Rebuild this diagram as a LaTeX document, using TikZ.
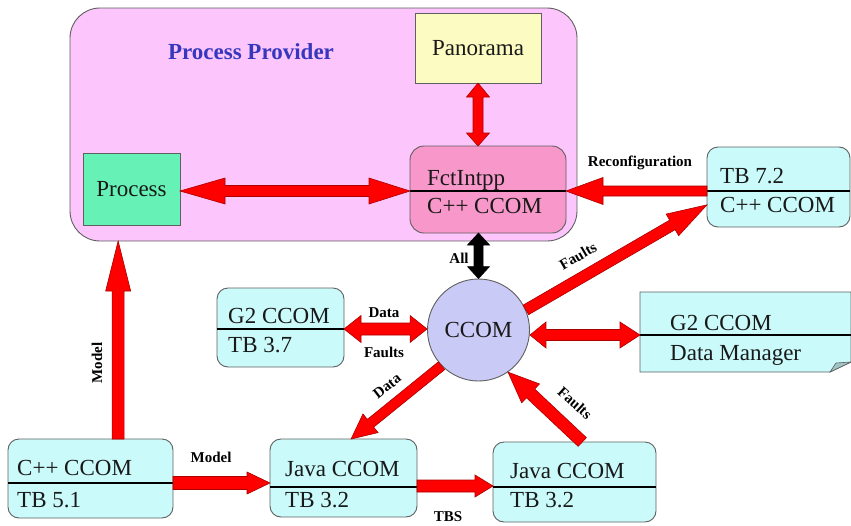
\documentclass[tikz,border=0pt]{standalone}
\usepackage{fontspec}
\setmainfont{Liberation Serif}
\usetikzlibrary{calc}

\definecolor{ppfill}{RGB}{252,198,252}
\definecolor{panofill}{RGB}{252,252,194}
\definecolor{procfill}{RGB}{102,242,182}
\definecolor{fctfill}{RGB}{248,152,202}
\definecolor{cyanfill}{RGB}{202,250,250}
\definecolor{ccomfill}{RGB}{202,202,246}
\definecolor{foldfill}{RGB}{160,196,196}
\definecolor{boxline}{RGB}{95,95,95}
\definecolor{textdark}{RGB}{25,25,25}
\definecolor{titleblue}{RGB}{55,55,190}
\definecolor{arrowred}{RGB}{255,0,0}
\definecolor{arrowedge}{RGB}{170,0,0}

\newcommand\boxfont{\fontsize{23}{26}\selectfont}
\newcommand\tagfont{\fontsize{15}{17}\selectfont\bfseries}

% single-headed fat arrow: style, tail, tip, half shaft, head length, half head width
\newcommand\fatone[6]{%
  \coordinate (hb) at ($(#3)!#5!(#2)$);
  \filldraw[#1] ($(#2)!#4!90:(#3)$) -- ($(hb)!#4!90:(#3)$) -- ($(hb)!#6!90:(#3)$)
    -- (#3) -- ($(hb)!#6!-90:(#3)$) -- ($(hb)!#4!-90:(#3)$) -- ($(#2)!#4!-90:(#3)$) -- cycle;
}
% double-headed fat arrow: style, end A, end B, half shaft, head A, head B, half head width
\newcommand\fattwo[7]{%
  \coordinate (ha) at ($(#2)!#5!(#3)$);
  \coordinate (hb) at ($(#3)!#6!(#2)$);
  \filldraw[#1] (#2) -- ($(ha)!#7!90:(#3)$) -- ($(ha)!#4!90:(#3)$)
    -- ($(hb)!#4!-90:(#2)$) -- ($(hb)!#7!-90:(#2)$) -- (#3)
    -- ($(hb)!#7!90:(#2)$) -- ($(hb)!#4!90:(#2)$)
    -- ($(ha)!#4!-90:(#3)$) -- ($(ha)!#7!-90:(#3)$) -- cycle;
}

\begin{document}
\begin{tikzpicture}[x=1pt,y=-1pt,
  box/.style={draw=boxline, line width=0.9pt, inner sep=0pt, outer sep=0pt, anchor=north west},
  cyanbox/.style={box, fill=cyanfill, rounded corners=11pt},
  sepline/.style={draw=black, line width=2pt},
  txt/.style={font=\boxfont, text=textdark, inner sep=0pt, anchor=base west},
  tag/.style={font=\tagfont, text=black, inner sep=0pt},
  redarrow/.style={fill=arrowred, draw=arrowedge, line width=0.6pt, line join=miter},
  blackarrow/.style={fill=black, draw=black, line width=0.6pt, line join=miter}]
\useasboundingbox (0,0) rectangle (851,525);

% ---- Process Provider frame
\node[box, fill=ppfill, rounded corners=30pt, minimum width=507pt, minimum height=233pt] (pp) at (70,8) {};
\node[font=\boxfont\bfseries, text=titleblue, inner sep=0pt] (pptitle) at (251,52) {Process Provider};

\node[box, fill=panofill, minimum width=126pt, minimum height=70pt, font=\boxfont, text=textdark] (pano) at (415,13) {Panorama};
\node[box, fill=procfill, minimum width=97pt, minimum height=72pt, font=\boxfont, text=textdark] (proc) at (83,153) {Process};

\node[box, fill=fctfill, rounded corners=14pt, minimum width=156pt, minimum height=87pt] (fct) at (410,146) {};
\coordinate (fctL) at (fct.west |- 0,191);
\coordinate (fctR) at (fct.east |- 0,191);
\draw[sepline] (fctL) -- (fctR);
\node[txt] (fct-a) at (427,185) {FctIntpp};
\node[txt] (fct-b) at (427,213) {C++ CCOM};

% ---- TB 7.2
\node[cyanbox, minimum width=143pt, minimum height=80pt] (tb72) at (707,147) {};
\coordinate (tb72L) at (tb72.west |- 0,191);
\draw[sepline] (tb72L) -- (tb72.east |- tb72L);
\node[txt] (tb72-a) at (720,183) {TB 7.2};
\node[txt] (tb72-b) at (720,212) {C++ CCOM};

% ---- G2 CCOM / TB 3.7
\node[cyanbox, minimum width=127pt, minimum height=79pt] (g2) at (217,288) {};
\coordinate (g2R) at (g2.east |- 0,329);
\draw[sepline] (g2.west |- g2R) -- (g2R);
\node[txt] (g2-a) at (228,323) {G2 CCOM};
\node[txt] (g2-b) at (228,352) {TB 3.7};

% ---- CCOM hub
\node[circle, draw=boxline, line width=0.9pt, fill=ccomfill, minimum size=102pt, inner sep=0pt,
      font=\boxfont, text=textdark] (ccom) at (478.5,330) {CCOM};

% ---- Data Manager (note shape)
\node[inner sep=0pt, outer sep=0pt, anchor=north west, minimum width=211pt, minimum height=80pt] (dm) at (640,292) {};
\draw[fill=cyanfill, draw=boxline, line width=0.9pt]
  (dm.north west) -- (dm.north east) -- ($(dm.south east)+(0,-10)$)
  -- ($(dm.south east)+(-21,0)$) -- (dm.south west) -- cycle;
\draw[fill=foldfill, draw=boxline, line width=0.6pt]
  ($(dm.south east)+(-21,0)$) -- ($(dm.south east)+(-15,-9)$) -- ($(dm.south east)+(0,-10)$) -- cycle;
\coordinate (dmL) at (dm.west |- 0,335);
\draw[sepline] (dmL) -- (dm.east |- dmL);
\node[txt] (dm-a) at (670,330) {G2 CCOM};
\node[txt] (dm-b) at (670,360) {Data Manager};

% ---- bottom row
\node[cyanbox, minimum width=165pt, minimum height=79pt] (cpp) at (8,439) {};
\coordinate (cppR) at (cpp.east |- 0,483);
\draw[sepline] (cpp.west |- cppR) -- (cppR);
\node[txt] (cpp-a) at (17,475) {C++ CCOM};
\node[txt] (cpp-b) at (17,507) {TB 5.1};

\node[cyanbox, minimum width=147pt, minimum height=78pt] (java1) at (270,439) {};
\coordinate (java1R) at (java1.east |- 0,487);
\draw[sepline] (java1.west |- java1R) -- (java1R);
\node[txt] (java1-a) at (285,476) {Java CCOM};
\node[txt] (java1-b) at (285,507) {TB 3.2};

\node[cyanbox, minimum width=163pt, minimum height=80pt] (java2) at (493,442) {};
\coordinate (java2L) at (java2.west |- 0,487);
\draw[sepline] (java2L) -- (java2.east |- java2L);
\node[txt] (java2-a) at (510,478) {Java CCOM};
\node[txt] (java2-b) at (510,507) {TB 3.2};

% ---- connectors
\coordinate (panoS) at (pano.south);
\coordinate (panoF) at (panoS |- fct.north);
\fattwo{redarrow}{panoS}{panoF}{5pt}{14pt}{13pt}{11.5pt}

\coordinate (procE) at (proc.east |- fctL);
\fattwo{redarrow}{procE}{fctL}{5.5pt}{45pt}{41pt}{13pt}

\fatone{redarrow}{tb72L}{fctR}{5pt}{37pt}{13.5pt}

\coordinate (ccomN) at (ccom.north);
\coordinate (fctS) at (ccomN |- fct.south);
\fattwo{blackarrow}{fctS}{ccomN}{4.5pt}{12pt}{12pt}{11pt}

\coordinate (ccomW) at (ccom.west |- g2R);
\fattwo{redarrow}{g2R}{ccomW}{6pt}{17pt}{17pt}{13.5pt}

\coordinate (ccomE) at (ccom.east |- dmL);
\fattwo{redarrow}{ccomE}{dmL}{5.5pt}{16pt}{20pt}{13pt}

\fatone{redarrow}{ccom.23}{tb72.194}{5.5pt}{40pt}{12.5pt}
\fatone{redarrow}{ccom.224}{java1.79}{5pt}{25pt}{12pt}
\fatone{redarrow}{java2.79}{ccom.-55}{6pt}{31pt}{13pt}

\coordinate (cppN) at (cpp.55);
\coordinate (ppS) at (pp.south -| cppN);
\fatone{redarrow}{cppN}{ppS}{6pt}{50pt}{12.5pt}

\coordinate (java1L) at (java1.west |- cppR);
\fatone{redarrow}{cppR}{java1L}{6.5pt}{23pt}{11pt}

\coordinate (java2W) at (java2.west |- 0,486);
\coordinate (java1E) at (java1.east |- java2W);
\fatone{redarrow}{java1E}{java2W}{6pt}{18pt}{11pt}

% ---- connector labels
\node[tag] (t-reconf) at (640,163) {Reconfiguration};
\node[tag] (t-all) at (459,258) {All};
\node[tag, rotate=30] (t-faults1) at (578,256) {Faults};
\node[tag] (t-data1) at (384,313) {Data};
\node[tag] (t-faults2) at (384,352) {Faults};
\node[tag, rotate=38] (t-data2) at (387,386) {Data};
\node[tag, rotate=-42] (t-faults3) at (575,403) {Faults};
\node[tag, rotate=90] (t-model1) at (97,363) {Model};
\node[tag] (t-model2) at (211,457) {Model};
\node[tag] (t-tbs) at (448,517) {TBS};
\end{tikzpicture}
\end{document}
